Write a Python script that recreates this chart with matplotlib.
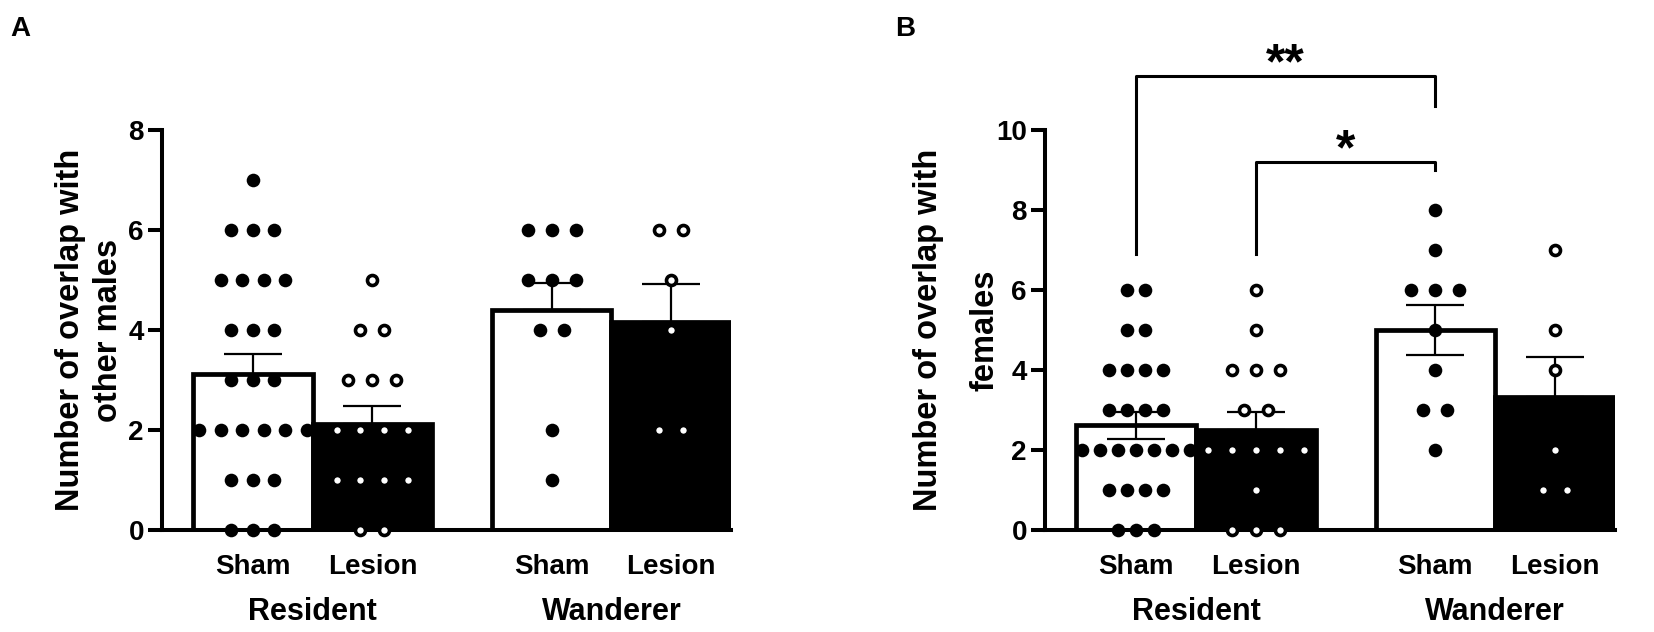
import numpy as np
import matplotlib.pyplot as plt

plt.rcParams['font.family'] = ['Liberation Sans', 'DejaVu Sans']
plt.rcParams['font.weight'] = 'bold'

# --- data ---
groups = ['Resident', 'Wanderer']
conditions = ['Sham', 'Lesion', 'Sham', 'Lesion']

males_res_sham = [7, 6, 6, 6, 5, 5, 5, 5, 4, 4, 4, 3, 3, 3, 2, 2, 2, 2, 2, 2, 1, 1, 1, 0, 0, 0]
males_res_lesion = [5, 4, 4, 3, 3, 3, 2, 2, 2, 2, 1, 1, 1, 1, 0, 0]
males_wan_sham = [6, 6, 6, 5, 5, 5, 4, 4, 2, 1]
males_wan_lesion = [6, 6, 5, 4, 2, 2]

fem_res_sham = [6, 6, 5, 5, 4, 4, 4, 4, 3, 3, 3, 3, 2, 2, 2, 2, 2, 2, 2, 1, 1, 1, 1, 0, 0, 0]
fem_res_lesion = [6, 5, 4, 4, 4, 3, 3, 2, 2, 2, 2, 2, 1, 0, 0, 0]
fem_wan_sham = [8, 7, 6, 6, 6, 5, 4, 3, 3, 2]
fem_wan_lesion = [7, 5, 4, 2, 1, 1]

# significance brackets for panel B: (left bar, right bar, label)
sig_pairs = [(0, 2, '**'), (1, 2, '*')]

positions = [0, 1, 2.5, 3.5]
bar_fill = ['white', 'black', 'white', 'black']

W, H = 1654, 632


def dot_offsets(vals):
    vals = np.asarray(vals)
    uniq, counts = np.unique(vals, return_counts=True)
    step = min(0.2, 0.9 / max(counts.max() - 1, 1))
    xs, ys = [], []
    for v, c in zip(uniq, counts):
        off = (np.arange(c) - (c - 1) / 2) * step
        xs.extend(off)
        ys.extend([v] * c)
    return np.array(xs), np.array(ys)


def draw_panel(ax, data, ymax, ylabel, both_err, label_x, label_ls):
    for x, vals, col in zip(positions, data, bar_fill):
        vals = np.asarray(vals, dtype=float)
        m = vals.mean()
        sem = vals.std(ddof=1) / np.sqrt(len(vals))
        ax.bar(x, m, width=1.0, color=col, edgecolor='black', linewidth=3.4, zorder=2)
        lo = sem if (both_err and col == 'white') else 0
        ax.errorbar(x, m, yerr=[[lo], [sem]], fmt='none', ecolor='black',
                    elinewidth=1.6, capsize=21, capthick=1.6, zorder=3)
        dx, dy = dot_offsets(vals)
        if col == 'white':
            ax.plot(x + dx, dy, 'o', ms=9.8, mfc='black', mec='black', mew=0,
                    zorder=4, clip_on=False)
        else:
            ax.plot(x + dx, dy, 'o', ms=7.2, mfc='white', mec='black', mew=2.6,
                    zorder=4, clip_on=False)

    ax.set_xlim(-0.76, 4.0)
    ax.set_ylim(0, ymax)
    ax.set_yticks(np.arange(0, ymax + 1, 2))
    ax.tick_params(axis='y', length=10, width=2.9, labelsize=20, pad=3)
    ax.set_xticks(positions)
    ax.set_xticklabels(conditions, fontsize=20, fontweight='bold')
    ax.tick_params(axis='x', length=0, pad=17)
    for s in ['top', 'right']:
        ax.spines[s].set_visible(False)
    for s in ['left', 'bottom']:
        ax.spines[s].set_linewidth(2.9)
    for g, gx in zip(groups, [0.5, 3.0]):
        ax.text(gx, -0.205, g, transform=ax.get_xaxis_transform(), ha='center',
                va='center', fontsize=22, fontweight='bold')
    ax.text(label_x, 0.5, ylabel, transform=ax.transAxes, rotation=90,
            ha='center', va='center', fontsize=23.5, fontweight='bold',
            multialignment='center', linespacing=label_ls)


fig = plt.figure(figsize=(W / 100, H / 100), dpi=100)
axA = fig.add_axes([162 / W, 1 - 530 / H, 569 / W, 400 / H])
axB = fig.add_axes([1045 / W, 1 - 530 / H, 570 / W, 400 / H])

draw_panel(axA, [males_res_sham, males_res_lesion, males_wan_sham, males_wan_lesion],
           8, 'Number of overlap with\nother males', False, -0.128, 1.28)
draw_panel(axB, [fem_res_sham, fem_res_lesion, fem_wan_sham, fem_wan_lesion],
           10, 'Number of overlap with\nfemales', True, -0.155, 2.05)

# brackets
bracket_tops = [11.35, 9.2]
right_drop = [0.75, 0.2]
for (i, j, lab), top, rd in zip(sig_pairs, bracket_tops, right_drop):
    x0, x1 = positions[i], positions[j]
    axB.plot([x0, x0, x1, x1], [6.9, top, top, top - rd], color='black',
             lw=2.2, clip_on=False, zorder=5)
    axB.text((x0 + x1) / 2, top - 0.3, lab, ha='center', va='bottom',
             fontsize=36, fontweight='bold')

fig.text(0.006, 0.975, 'A', fontsize=20, fontweight='bold', va='top')
fig.text(895 / W, 0.975, 'B', fontsize=20, fontweight='bold', va='top')

fig.savefig('out.png', dpi=100)
